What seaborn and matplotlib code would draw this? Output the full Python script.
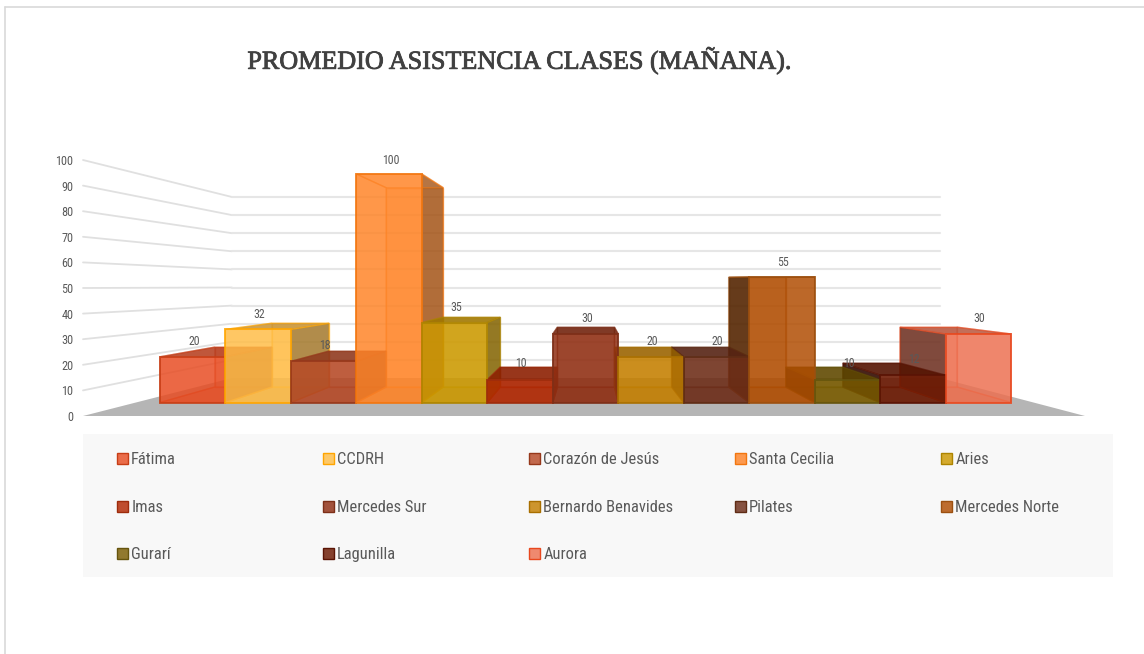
import numpy as np
import pandas as pd
import seaborn as sns
import matplotlib
matplotlib.use("Agg")
import matplotlib.pyplot as plt
import matplotlib.patheffects as pe
from matplotlib import font_manager as fm
from matplotlib.colors import to_rgb
from matplotlib.patches import Patch, Polygon, Rectangle
from matplotlib.lines import Line2D

# ---------- data ----------
names = ["Fátima", "CCDRH", "Corazón de Jesús", "Santa Cecilia", "Aries", "Imas",
         "Mercedes Sur", "Bernardo Benavides", "Pilates", "Mercedes Norte",
         "Gurarí", "Lagunilla", "Aurora"]
values = [20, 32, 18, 100, 35, 10, 30, 20, 20, 55, 10, 12, 30]
colors = ["#E84C22", "#FFBD47", "#B64926", "#FF8427", "#CC9900", "#B22600",
          "#8F2D11", "#C47F00", "#6D2C17", "#B04C00", "#7A5C00", "#6B1700", "#ED7050"]
edges = ["#C73E16", "#FFA500", "#96381B", "#F2760F", "#AD8400", "#9E2C0C",
         "#7D2F18", "#A96F00", "#5F2C15", "#9C5010", "#65540D", "#5A1405", "#E8481E"]
y_ticks = list(range(0, 101, 10))
title = "PROMEDIO ASISTENCIA CLASES (MAÑANA)."

# ---------- figure ----------
W, H = 1144, 654
sns.set_theme(style="white")
installed = {f.name for f in fm.fontManager.ttflist}
narrow = next((n for n in ["Liberation Sans Narrow", "Roboto Condensed", "Open Sans Condensed",
                           "Liberation Sans"] if n in installed), "DejaVu Sans")
plt.rcParams["font.family"] = [narrow, "DejaVu Sans"]
TXT = "#595959"
fig = plt.figure(figsize=(W / 100, H / 100), dpi=100, facecolor="white")
ax = fig.add_axes([0, 0, 1, 1])

# front plane of the bars, in pixels
X0, BAR_W, Y0, UNIT = 160.0, 65.46, 402.5, 2.285
px_x = lambda p: (p - X0) / BAR_W - 0.5
px_y = lambda p: (Y0 - p) / UNIT

df = pd.DataFrame({"name": names, "value": values})
sns.barplot(data=df, x="name", y="value", hue="name", order=names, hue_order=names,
            palette=colors, dodge=False, width=1.0, alpha=0.83, legend=False, ax=ax,
            saturation=1, err_kws={"linewidth": 0})
ax.set_xlim(px_x(0), px_x(W))
ax.set_ylim(px_y(H), px_y(0))
ax.set_axis_off()

for bar, e in zip(ax.patches, edges):
    bar.set_edgecolor(e)
    bar.set_linewidth(1.4)
    bar.set_zorder(6)

# depth projection of a bar towards the vanishing point
VPX, VPY, K = px_x(589), px_y(281), 0.872
def back(x, y):
    return VPX + K * (x - VPX), VPY + K * (y - VPY)

def shade(c, f):
    return tuple(np.clip(np.array(to_rgb(c)) * f, 0, 1))

for i, (v, c, e) in enumerate(zip(values, colors, edges)):
    l, r = i - 0.5, i + 0.5
    fl0, fr0, fl1, fr1 = (l, 0), (r, 0), (l, v), (r, v)
    bl0, br0, bl1, br1 = back(*fl0), back(*fr0), back(*fl1), back(*fr1)
    # a face that lies outside the front rectangle is seen directly and shaded;
    # one that lies inside it only shows faintly through the front
    left_out = bl1[0] < l
    right_out = br1[0] > r
    top_out = bl1[1] > v
    faces = [([bl0, br0, br1, bl1], 1.0, 0.3, 2),    # back
             ([fl0, fr0, br0, bl0], 0.9, 0.4, 2),    # bottom
             ([fl1, fr1, br1, bl1], 0.78 if top_out else 1.0, 0.85 if top_out else 0.06, 4),
             ([fl0, fl1, bl1, bl0], 0.45 if left_out else 1.0, 0.85 if left_out else 0.06, 3),
             ([fr0, fr1, br1, br0], 0.62 if right_out else 1.0, 0.8 if right_out else 0.06, 3)]
    for pts, f, a, z in faces:
        ax.add_patch(Polygon(pts, closed=True, facecolor=shade(c, f) + (a,),
                             edgecolor=e + "80", linewidth=1.0, zorder=z))
    ax.text(i + 0.02, v * 2.255 / UNIT + 16 / UNIT, str(v), ha="center", va="center",
            fontsize=8.6, color=TXT, zorder=8)

# walls and floor
WF_L, WF_R, WF_Y, WF_U = 83, 1085, 416, 2.56
WB_L, WB_R, WB_Y, WB_U = 232, 940, 378, 1.81
ax.add_patch(Polygon([(px_x(WF_L), px_y(WF_Y)), (px_x(WF_R), px_y(WF_Y)),
                      (px_x(WB_R), px_y(WB_Y)), (px_x(WB_L), px_y(WB_Y))],
                     closed=True, facecolor="#B5B5B5", edgecolor="none", zorder=1))
for t in y_ticks[1:]:
    yf, yb = px_y(WF_Y - t * WF_U), px_y(WB_Y - t * WB_U)
    ax.plot([px_x(WF_L), px_x(WB_L)], [yf, yb], color="#E0E0E0", lw=1.3, zorder=0.5)
    ax.plot([px_x(WB_L), px_x(WB_R)], [yb, yb], color="#E6E6E6", lw=1.5, zorder=0.5)

# value axis: real ticks on the front edge of the left wall
wall = fig.add_axes([83 / W, 1 - WF_Y / H, 1 / W, 100 * WF_U / H])
wall.patch.set_visible(False)
wall.set_ylim(0, 100)
wall.set_xticks([])
wall.set_yticks(y_ticks)
wall.set_yticklabels([str(t) for t in y_ticks])
wall.tick_params(axis="y", length=0, pad=7, labelsize=8.8, labelcolor=TXT)
for s in wall.spines.values():
    s.set_visible(False)
wall.grid(False)

# legend panel and one legend per column
ax.add_patch(Rectangle((px_x(83), px_y(577)), px_x(1113) - px_x(83), px_y(434) - px_y(577),
                       facecolor="#F8F8F8", edgecolor="none", zorder=0.2))
for col in range(5):
    idx = list(range(col, len(names), 5))
    handles = [Patch(facecolor=colors[j] + "D0", edgecolor=edges[j], linewidth=1.0) for j in idx]
    fig.legend(handles, [names[j] for j in idx], loc="upper left",
               bbox_to_anchor=((117 + 206 * col) / W, 1 - 452.5 / H), frameon=False,
               fontsize=11.9, labelcolor=TXT, handlelength=0.66, handleheight=0.66,
               handletextpad=0.2, labelspacing=1.96, borderpad=0, borderaxespad=0)

# title and chart frame
fig.text(520 / W, 1 - 61 / H, title, ha="center", va="center", fontsize=18.8,
         family=["Liberation Serif", "DejaVu Serif"], color="#404040",
         path_effects=[pe.withStroke(linewidth=0.6, foreground="#404040")])
fig.add_artist(Line2D([5 / W, 5 / W], [0, 1 - 7 / H], color="#D9D9D9", lw=1.2))
fig.add_artist(Line2D([5 / W, 1], [1 - 7 / H, 1 - 7 / H], color="#D9D9D9", lw=1.2))

fig.savefig("out.png", dpi=100, facecolor="white")
